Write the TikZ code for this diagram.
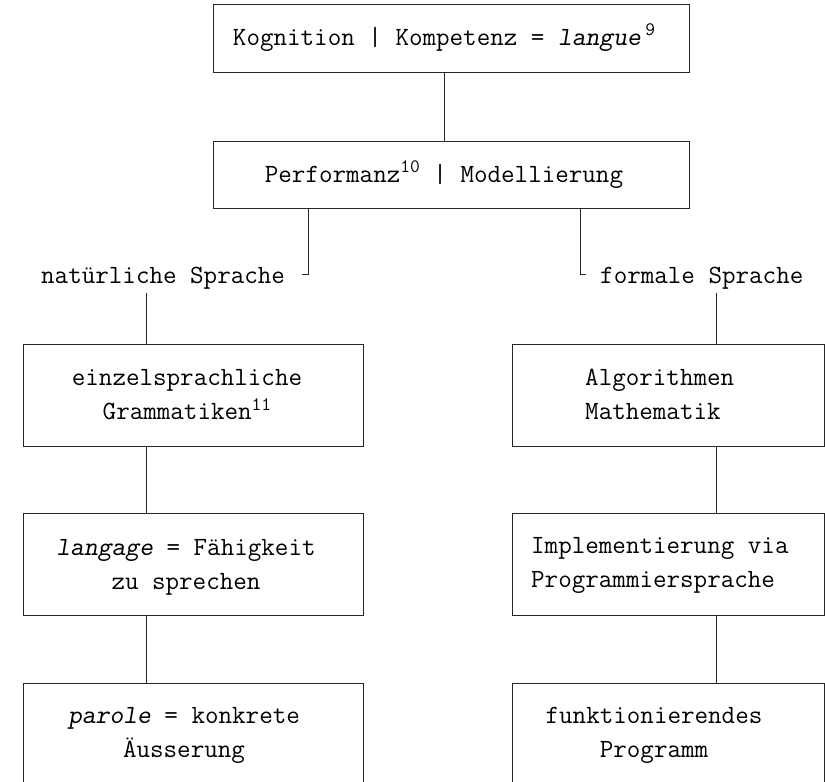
\documentclass[tikz,border=0pt]{standalone}
\newcommand\supnum[1]{\raisebox{9.5pt}{\fontsize{19}{19}\selectfont #1}}
\begin{document}
\begin{tikzpicture}[x=1pt,y=-1pt,
  box/.style={draw=black!85, line width=1pt, inner sep=0pt, minimum width=#1, minimum height=68pt},
  txt/.style={inner sep=0pt, font=\ttfamily\fontsize{26.3}{34.5}\selectfont},
  conn/.style={draw=black!85, line width=1pt}]
\useasboundingbox (0,0) rectangle (825,782);
\clip (0,0) rectangle (825,782);
\fill[white] (0,0) rectangle (825,782);
% top boxes
\node[box=476pt] (b1) at (451,38) {};
\node[box=476pt, minimum height=67pt] (b2) at (451,174.5) {};
\node[txt, anchor=base] (t1) at (444,45) {Kognition | Kompetenz = \textsl{langue}\,\supnum{9}};
\node[txt, anchor=base] (t2) at (444,182) {Performanz\supnum{10} | Modellierung};
% branch labels
\node[txt, anchor=base west] (nat) at (41,283) {natürliche Sprache};
\node[txt, anchor=base west] (form) at (600,283) {formale Sprache};
% left column boxes
\node[box=340pt, minimum height=102pt] (L1) at (193,395) {};
\node[box=340pt, minimum height=102pt] (L2) at (193,564) {};
\node[box=340pt, minimum height=102pt] (L3) at (193,734) {};
% right column boxes
\node[box=312pt, minimum height=102pt] (R1) at (668,395) {};
\node[box=312pt, minimum height=102pt] (R2) at (668,564) {};
\node[box=312pt, minimum height=102pt] (R3) at (668,734) {};
% texts
\node[txt, anchor=north, align=center] (tl1) at (187,360.85) {\strut einzelsprachliche\\\strut Grammatiken\supnum{11}};
\node[txt, anchor=north, align=center] (tl2) at (186,530.85) {\strut\textsl{langage} = Fähigkeit\\\strut zu sprechen};
\node[txt, anchor=north, align=center] (tl3) at (184,698.85) {\strut\textsl{parole} = konkrete\\\strut Äusserung};
\node[txt, anchor=north west, align=left] (tr1) at (585,360.85) {\strut Algorithmen\\\strut Mathematik};
\node[txt, anchor=north west, align=left] (tr2) at (531,528.85) {\strut Implementierung via\\\strut Programmiersprache};
\node[txt, anchor=north, align=center] (tr3) at (654,698.85) {\strut funktionierendes\\\strut Programm};
% connectors
\draw[conn] (t1 |- b1.south) -- (t1 |- b2.north);
\coordinate (nk) at (308,274);
\coordinate (nt) at (302,274);
\coordinate (fk) at (580,274);
\coordinate (ft) at (586,274);
\draw[conn] (b2.south -| nk) -- (nk) -- (nt);
\draw[conn] (b2.south -| fk) -- (fk) -- (ft);
\coordinate (nd) at (146,293);
\coordinate (fd) at (716,293);
\draw[conn] (nd) -- (nd |- L1.north);
\draw[conn] (fd) -- (fd |- R1.north);
\draw[conn] (nd |- L1.south) -- (nd |- L2.north);
\draw[conn] (nd |- L2.south) -- (nd |- L3.north);
\draw[conn] (fd |- R1.south) -- (fd |- R2.north);
\draw[conn] (fd |- R2.south) -- (fd |- R3.north);
\end{tikzpicture}
\end{document}
